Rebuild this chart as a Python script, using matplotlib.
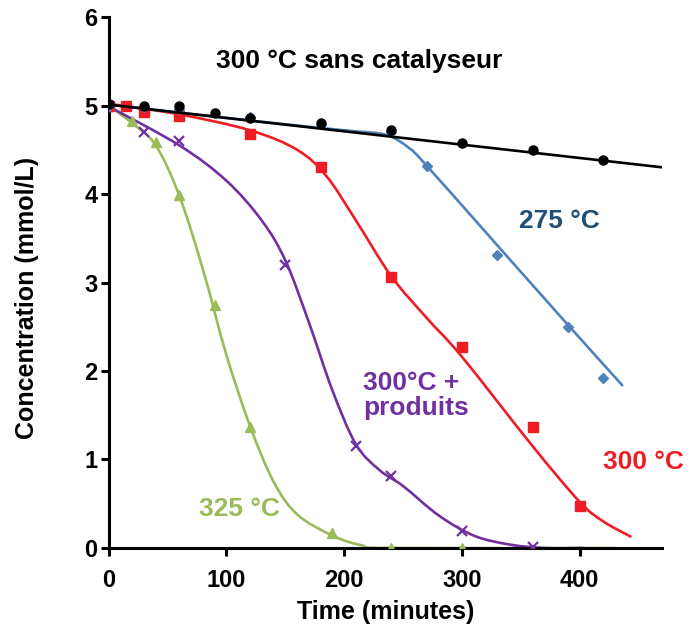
import matplotlib
matplotlib.use("Agg")
import matplotlib.pyplot as plt
from matplotlib.path import Path
from matplotlib.patches import PathPatch

plt.rcParams['font.family'] = ['Liberation Sans', 'DejaVu Sans']
plt.rcParams['font.weight'] = 'bold'

# ---- measured points (time in minutes, concentration in mmol/L) ----
black_t = [0, 30, 60, 90, 120, 180, 240, 300, 360, 420]
black_c = [5.02, 4.99, 4.99, 4.92, 4.86, 4.80, 4.72, 4.58, 4.50, 4.38]

blue_t = [0, 30, 60, 120, 180, 240, 270, 330, 390, 420]
blue_c = [5.0, 4.98, 4.96, 4.87, 4.79, 4.70, 4.32, 3.31, 2.50, 1.92]

red_t = [0, 15, 30, 60, 120, 180, 240, 300, 360, 400]
red_c = [5.0, 5.0, 4.93, 4.88, 4.68, 4.31, 3.06, 2.27, 1.37, 0.48]

purple_t = [0, 30, 60, 150, 210, 240, 300, 360]
purple_c = [5.0, 4.70, 4.60, 3.20, 1.15, 0.81, 0.19, 0.01]

green_t = [0, 20, 40, 60, 90, 120, 190, 240, 300]
green_c = [5.0, 4.82, 4.59, 3.99, 2.75, 1.37, 0.17, 0.0, 0.0]

# ---- fitted curves ----
black_fit_t = [0, 471]
black_fit_c = [5.01, 4.30]

blue_fit_t = [0, 120, 200, 235, 255, 270, 330, 390, 436]
blue_fit_c = [5.01, 4.83, 4.72, 4.67, 4.52, 4.32, 3.42, 2.52, 1.84]

red_fit_t = [0, 60, 120, 160, 185, 210, 240, 270, 300, 360, 400, 420, 443]
red_fit_c = [5.02, 4.90, 4.72, 4.50, 4.20, 3.70, 3.07, 2.60, 2.16, 1.15, 0.52, 0.30, 0.13]

purple_fit_t = [0, 60, 100, 130, 150, 170, 190, 210, 230, 250, 280, 310, 340, 370, 403]
purple_fit_c = [4.99, 4.55, 4.15, 3.70, 3.25, 2.55, 1.78, 1.17, 0.88, 0.70, 0.37, 0.14,
                0.04, 0.0, 0.0]

green_fit_t = [0, 20, 40, 60, 80, 100, 120, 140, 160, 190, 215, 240, 430]
green_fit_c = [5.0, 4.80, 4.55, 3.98, 3.15, 2.18, 1.38, 0.75, 0.38, 0.14, 0.03, 0.0, 0.0]

c_black = "#000000"
c_blue = "#4F81BD"
c_blue_txt = "#1F4E79"
c_red = "#EE1C24"
c_purple = "#7030A0"
c_green = "#9BBB59"


def smooth_line(ax, xs, ys, color, lw, zorder):
    """Excel-style smoothed line: Catmull-Rom segments drawn as Bezier curves."""
    pts = list(zip(xs, ys))
    verts = [pts[0]]
    codes = [Path.MOVETO]
    n = len(pts)
    for i in range(n - 1):
        p0 = pts[i - 1] if i > 0 else pts[i]
        p1 = pts[i]
        p2 = pts[i + 1]
        p3 = pts[i + 2] if i + 2 < n else pts[i + 1]
        c1 = (p1[0] + (p2[0] - p0[0]) / 6, p1[1] + (p2[1] - p0[1]) / 6)
        c2 = (p2[0] - (p3[0] - p1[0]) / 6, p2[1] - (p3[1] - p1[1]) / 6)
        verts += [c1, c2, p2]
        codes += [Path.CURVE4] * 3
    patch = PathPatch(Path(verts, codes), fill=False, edgecolor=color, lw=lw,
                      zorder=zorder, capstyle="round", joinstyle="round")
    ax.add_patch(patch)


fig = plt.figure(figsize=(6.92, 6.28), dpi=100)
ax = fig.add_axes([0.157, 0.1274, 0.8, 0.8455])

lw = 1.9
smooth_line(ax, green_fit_t, green_fit_c, c_green, lw, 2)
ax.plot(green_t, green_c, ls="none", marker="^", ms=6.5, color=c_green, zorder=3)

smooth_line(ax, purple_fit_t, purple_fit_c, c_purple, lw, 2)
ax.plot(purple_t, purple_c, ls="none", marker="x", ms=7, mew=1.6, color=c_purple, zorder=3)

smooth_line(ax, red_fit_t, red_fit_c, c_red, lw, 2)
ax.plot(red_t, red_c, ls="none", marker="s", ms=6.5, color=c_red, zorder=3)

smooth_line(ax, blue_fit_t, blue_fit_c, c_blue, lw, 2)
ax.plot(blue_t, blue_c, ls="none", marker="D", ms=5, color=c_blue, zorder=3)

ax.plot(black_fit_t, black_fit_c, color=c_black, lw=lw, zorder=4)
ax.plot(black_t, black_c, ls="none", marker="o", ms=6.5, color=c_black, zorder=5)

ax.set_xlim(0, 470)
ax.set_ylim(0, 6)
ax.set_xticks([0, 100, 200, 300, 400])
ax.set_yticks([0, 1, 2, 3, 4, 5, 6])

for side in ["top", "right"]:
    ax.spines[side].set_visible(False)
for side in ["left", "bottom"]:
    ax.spines[side].set_linewidth(2.2)

ax.tick_params(axis="both", direction="out", length=6, width=2.2, labelsize=17)
ax.tick_params(axis="x", pad=9)
ax.tick_params(axis="y", pad=2)
for lab in ax.get_xticklabels() + ax.get_yticklabels():
    lab.set_fontweight("bold")

ax.set_xlabel("Time (minutes)", fontsize=18, fontweight="bold", labelpad=6)
ax.set_ylabel("Concentration (mmol/L)", fontsize=18, fontweight="bold")
ax.yaxis.set_label_coords(-0.125, 0.47)

# labels on the curves
ax.text(213, 5.5, "300 °C sans catalyseur", fontsize=19, fontweight="bold",
        color=c_black, ha="center", va="center")
ax.text(383, 3.69, "275 °C", fontsize=19, fontweight="bold",
        color=c_blue_txt, ha="center", va="center")
ax.text(216, 1.72, "300°C +\nproduits", fontsize=19, fontweight="bold",
        color=c_purple, ha="left", va="center", linespacing=1.05)
ax.text(420, 0.97, "300 °C", fontsize=19, fontweight="bold",
        color=c_red, ha="left", va="center", clip_on=False)
ax.text(111, 0.44, "325 °C", fontsize=19, fontweight="bold",
        color=c_green, ha="center", va="center")

fig.savefig("out.png", dpi=100)
